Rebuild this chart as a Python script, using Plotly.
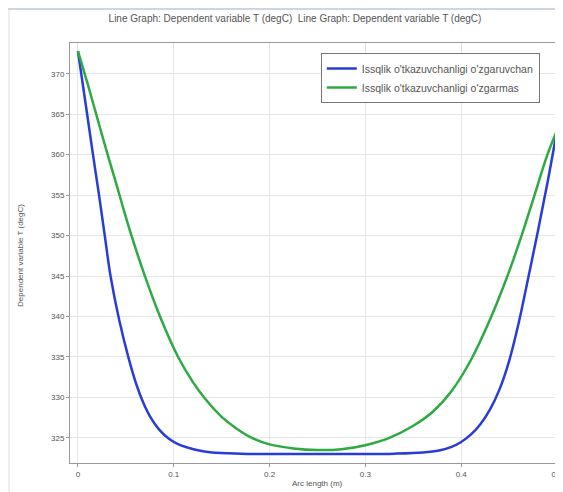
import plotly.graph_objects as go

# Temperature along arc length
blue_x = [0, 0.0096, 0.0157, 0.022, 0.028, 0.034, 0.043, 0.053, 0.061, 0.068,
          0.075, 0.085, 0.095, 0.105, 0.115, 0.124, 0.14, 0.17, 0.2, 0.25,
          0.3, 0.33, 0.36, 0.377, 0.39, 0.4, 0.41, 0.42, 0.43, 0.44,
          0.45, 0.46, 0.47, 0.48, 0.49, 0.5]
blue_t = [372.8, 365, 360, 355, 350, 345, 339.6, 334.8, 331.6, 329.4,
          327.7, 326.0, 324.9, 324.2, 323.8, 323.5, 323.2, 323.05, 323.0, 323.0,
          323.0, 323.05, 323.2, 323.45, 323.9, 324.5, 325.4, 326.7, 328.5, 331.0,
          334.5, 339.2, 344.8, 350.5, 356.5, 363.0]

green_x = [0, 0.01, 0.02, 0.03, 0.04, 0.047, 0.054, 0.069, 0.085, 0.105,
           0.12, 0.133, 0.15, 0.165, 0.18, 0.2, 0.225, 0.25, 0.275, 0.3,
           0.325, 0.35, 0.37, 0.39, 0.41, 0.43, 0.447, 0.4625, 0.476, 0.49, 0.5]
green_t = [372.8, 368.8, 364.6, 360.4, 356.4, 353.5, 350.7, 345.3, 340.2, 334.9,
           331.9, 329.8, 327.6, 326.2, 325.1, 324.2, 323.7, 323.5, 323.6, 324.1,
           325.0, 326.5, 328.2, 330.8, 334.6, 339.6, 344.6, 349.8, 354.8, 360.0, 363.0]

names = ["Issqlik o'tkazuvchanligi o'zgaruvchan",
         "Issqlik o'tkazuvchanligi o'zgarmas"]

fig = go.Figure()
fig.add_trace(go.Scatter(
    x=blue_x, y=blue_t, mode="lines", name=names[0],
    line=dict(color="rgb(40,60,215)", width=2.5, shape="spline", smoothing=1)))
fig.add_trace(go.Scatter(
    x=green_x, y=green_t, mode="lines", name=names[1],
    line=dict(color="rgb(45,170,65)", width=2.5, shape="spline", smoothing=1)))

# screenshot frame strips
fig.add_shape(type="rect", xref="paper", yref="paper",
              x0=-0.2, x1=1.1, y0=1.0786, y1=1.09,
              fillcolor="#cdd6e0", line_width=0, layer="below")
fig.add_shape(type="rect", xref="paper", yref="paper",
              x0=-0.2, x1=-0.123, y0=-0.1, y1=1.079,
              fillcolor="#efefef", line_width=0, layer="below")

# axis titles
fig.add_annotation(text="Arc length (m)", xref="paper", yref="paper",
                   x=0.508, y=-0.048, xanchor="center", yanchor="middle",
                   showarrow=False, font=dict(size=8, color="#555555"))
fig.add_annotation(text="Dependent variable T (degC)", xref="paper", yref="paper",
                   x=-0.103, y=0.495, xanchor="center", yanchor="middle",
                   textangle=-90, showarrow=False, font=dict(size=8, color="#555555"))

# page body adds an 8px offset, so the figure is 8px smaller than the window
fig.update_layout(
    width=555,
    height=484,
    margin=dict(l=62, r=6, t=35, b=29),
    paper_bgcolor="white",
    plot_bgcolor="white",
    font=dict(family="Liberation Sans", size=8, color="#555555"),
    title=dict(
        text="Line Graph: Dependent variable T (degC)  Line Graph: Dependent variable T (degC)",
        xref="paper", x=0.462, xanchor="center", y=0.979, yanchor="middle",
        font=dict(size=10, color="#555555")),
    xaxis=dict(
        range=[-0.0083, 0.5], dtick=0.1, tickformat="~g", automargin=False,
        ticklabeloverflow="allow",
        showgrid=True, gridcolor="#e6e6e6", zeroline=False,
        showline=True, linecolor="#999999", mirror=True,
        ticks="outside", ticklen=3, tickcolor="#999999"),
    yaxis=dict(
        range=[321.9, 373.8], dtick=5, automargin=False,
        showgrid=True, gridcolor="#e6e6e6", zeroline=False,
        showline=True, linecolor="#999999", mirror=True,
        ticks="outside", ticklen=3, tickcolor="#999999"),
    legend=dict(
        x=0.515, xanchor="left", y=0.976, yanchor="top",
        bgcolor="white", bordercolor="#777777", borderwidth=1,
        itemwidth=30, font=dict(size=10.5, color="#555555"), tracegroupgap=0),
)

fig.write_html("out.html")
